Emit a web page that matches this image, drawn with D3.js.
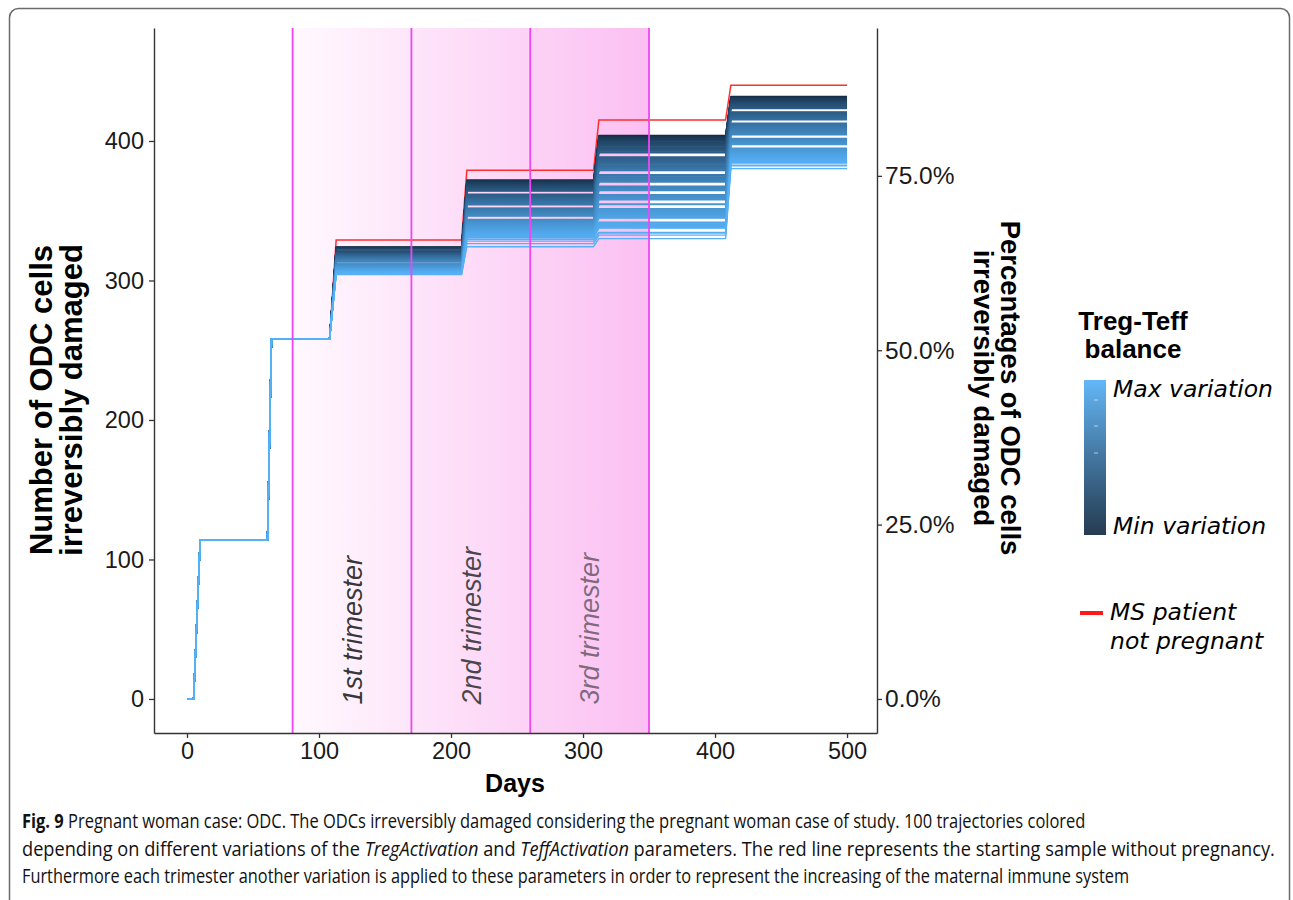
<!DOCTYPE html>
<html>
<head>
<meta charset="utf-8">
<script src="https://cdn.jsdelivr.net/npm/d3@7/dist/d3.min.js"></script>
<style>
  body { margin: 0; background: #fff; }
</style>
</head>
<body>
<script>
// ---- data ----
var xTicks = [0, 100, 200, 300, 400, 500];
var yTicks = [0, 100, 200, 300, 400];
var pctTicks = [0, 25, 50, 75];
var totalCells = 500;              // 100% on the right axis
var trimesterBounds = [80, 170, 260, 350];
var trimesterNames = ["1st trimester", "2nd trimester", "3rd trimester"];
var trimesterMid = [125, 215, 305];

// damage events: day the rise starts and day it ends
var riseStart = [5, 61, 108, 208, 308, 408];
var riseEnd = [10, 64, 113, 212, 312, 412];
var lastDay = 500;

// plateaus common to every trajectory
var commonLevels = [0, 114, 258];
// red line: MS patient not pregnant
var redLevels = [0, 114, 258, 329, 379, 415, 440];

// plateau after each later event, one value per trajectory, min variation first
var step3 = [
  324.0, 323.8, 323.7, 323.5, 323.4, 323.2, 323.0, 322.9, 322.7, 322.6,
  321.2, 321.0, 320.9, 320.7, 320.5, 320.4, 320.2, 320.1, 319.9, 319.7,
  319.6, 319.4, 319.3, 319.1, 318.9, 318.8, 318.6, 318.5, 318.3, 318.1,
  318.0, 317.8, 317.7, 317.5, 317.3, 317.2, 317.0, 316.9, 316.7, 316.5,
  316.4, 316.2, 316.1, 315.9, 315.7, 315.6, 315.4, 315.3, 315.1, 314.9,
  314.8, 314.6, 314.5, 314.3, 314.1, 314.0, 313.8, 313.7, 313.5, 313.3,
  311.9, 311.7, 311.6, 311.4, 311.2, 311.1, 310.9, 310.7, 310.6, 310.4,
  310.2, 310.1, 309.9, 309.7, 309.6, 309.4, 309.2, 309.0, 308.9, 308.7,
  308.5, 308.3, 308.2, 308.0, 307.8, 307.6, 307.4, 307.3, 307.1, 306.9,
  306.7, 306.5, 306.3, 306.1, 305.9, 305.7, 305.4, 305.1, 304.7, 304.2];
var step4 = [
  372.0, 371.6, 371.3, 371.0, 370.6, 370.2, 369.9, 369.5, 369.2, 368.8,
  368.4, 368.1, 367.7, 367.4, 367.0, 366.6, 366.3, 365.9, 365.6, 365.2,
  364.8, 364.5, 364.1, 361.9, 361.5, 361.2, 360.8, 360.5, 360.1, 359.7,
  359.4, 359.0, 358.7, 358.3, 357.9, 357.6, 357.2, 356.9, 356.5, 356.1,
  355.8, 355.4, 355.1, 354.7, 354.3, 351.9, 351.6, 351.2, 350.8, 350.5,
  350.1, 349.8, 349.4, 349.0, 348.7, 348.3, 348.0, 347.6, 347.2, 346.9,
  346.5, 346.2, 343.8, 343.5, 343.1, 342.7, 342.4, 342.0, 341.7, 341.3,
  340.9, 340.6, 340.2, 339.9, 339.5, 339.1, 338.8, 338.4, 338.1, 337.7,
  337.3, 337.0, 336.6, 336.3, 335.9, 335.5, 335.2, 334.8, 334.5, 334.1,
  333.7, 333.3, 332.8, 332.2, 331.5, 330.6, 329.6, 328.2, 326.4, 324.2];
var step5 = [
  404.0, 403.5, 403.0, 402.5, 402.0, 401.4, 400.9, 400.4, 399.9, 399.4,
  398.9, 398.3, 397.8, 397.3, 396.8, 396.3, 395.8, 395.2, 394.7, 394.2,
  393.7, 393.2, 392.7, 392.1, 391.6, 388.6, 388.1, 387.6, 387.1, 386.6,
  386.0, 385.5, 385.0, 384.5, 384.0, 383.5, 382.9, 382.4, 381.9, 381.4,
  380.9, 380.4, 379.8, 379.3, 378.8, 375.8, 375.3, 374.8, 374.2, 373.7,
  373.2, 372.7, 372.2, 371.7, 371.1, 370.6, 367.6, 367.1, 366.6, 366.0,
  365.5, 365.0, 364.5, 361.5, 361.0, 360.5, 360.0, 359.4, 358.9, 358.4,
  357.9, 354.9, 354.4, 351.4, 350.9, 350.4, 349.8, 349.3, 348.8, 348.3,
  347.8, 347.3, 346.7, 346.2, 345.7, 345.2, 344.7, 341.7, 341.1, 340.6,
  340.1, 339.6, 339.1, 338.6, 338.0, 337.5, 334.5, 334.0, 332.5, 330.0];
var step6 = [
  432.0, 431.6, 431.2, 430.8, 430.4, 430.0, 429.6, 429.2, 428.8, 428.4,
  428.0, 427.6, 427.2, 426.8, 426.4, 426.0, 425.6, 425.2, 424.8, 424.4,
  424.0, 423.6, 423.2, 420.8, 420.4, 420.0, 419.6, 419.2, 418.8, 418.4,
  418.0, 417.6, 417.2, 416.8, 416.4, 416.0, 415.6, 415.2, 412.8, 412.4,
  412.0, 411.6, 411.2, 410.8, 410.4, 410.0, 409.6, 409.2, 408.8, 408.4,
  408.0, 407.6, 407.2, 406.8, 406.4, 406.0, 405.6, 405.2, 404.8, 404.4,
  401.8, 401.4, 401.0, 400.6, 400.2, 399.8, 399.4, 399.0, 398.6, 398.2,
  397.8, 397.4, 394.8, 394.4, 394.0, 393.6, 393.2, 392.8, 392.4, 392.0,
  391.6, 391.2, 390.8, 390.4, 390.0, 389.6, 389.2, 388.8, 388.4, 388.0,
  387.6, 387.2, 386.8, 386.4, 386.0, 385.4, 384.6, 383.6, 382.2, 380.2];

var lowColor = "#132B43", highColor = "#56B1F7";

// ---- page ----
var W = 1293, H = 900;
var svg = d3.select("body").append("svg")
    .attr("width", W)
    .attr("height", H)
    .style("font-family", "'Liberation Sans', Arial, sans-serif");

var defs = svg.append("defs");

// figure frame
svg.append("rect")
    .attr("x", 9.5).attr("y", 8.5)
    .attr("width", 1280).attr("height", 940)
    .attr("rx", 9)
    .attr("fill", "none")
    .attr("stroke", "#6b6b6b")
    .attr("stroke-width", 1.5);

var x = d3.scaleLinear().domain([-25, 522.7]).range([154, 877]);
var y = d3.scaleLinear().domain([-24.4, 481]).range([733, 28]);

// trimester shading
var shade = defs.append("linearGradient")
    .attr("id", "shade")
    .attr("gradientUnits", "userSpaceOnUse")
    .attr("x1", x(trimesterBounds[0])).attr("x2", x(trimesterBounds[3]))
    .attr("y1", 0).attr("y2", 0);
shade.append("stop").attr("offset", 0).attr("stop-color", "#fff9fe");
shade.append("stop").attr("offset", 1).attr("stop-color", "#fbbff2");

svg.append("rect")
    .attr("x", x(trimesterBounds[0]))
    .attr("y", y.range()[1])
    .attr("width", x(trimesterBounds[3]) - x(trimesterBounds[0]))
    .attr("height", y.range()[0] - y.range()[1])
    .attr("fill", "url(#shade)");

// trajectories
function buildPath(levels) {
  var pts = [[0, levels[0]]];
  for (var k = 0; k < riseStart.length; k++) {
    pts.push([riseStart[k], levels[k]]);
    pts.push([riseEnd[k], levels[k + 1]]);
  }
  pts.push([lastDay, levels[levels.length - 1]]);
  return pts;
}

var line = d3.line()
    .x(function(d) { return x(d[0]); })
    .y(function(d) { return y(d[1]); });

var n = step3.length;
var color = d3.scalePow().exponent(0.65).domain([0, n - 1])
    .range([lowColor, highColor])
    .interpolate(d3.interpolateLab);

var trajectories = d3.range(n).map(function(i) {
  return buildPath(commonLevels.concat([step3[i], step4[i], step5[i], step6[i]]));
});

var plot = svg.append("g");

plot.append("path")
    .attr("d", line(buildPath(redLevels)))
    .attr("fill", "none")
    .attr("stroke", "#ff2e2e")
    .attr("stroke-width", 1.5);

plot.selectAll("path.traj")
    .data(trajectories)
  .enter().append("path")
    .attr("class", "traj")
    .attr("d", line)
    .attr("fill", "none")
    .attr("stroke", function(d, i) { return color(i); })
    .attr("stroke-width", 1.4)
    .attr("stroke-linejoin", "round");

// trimester boundaries
svg.selectAll("line.vline")
    .data(trimesterBounds)
  .enter().append("line")
    .attr("x1", function(d) { return x(d); })
    .attr("x2", function(d) { return x(d); })
    .attr("y1", y.range()[1])
    .attr("y2", y.range()[0])
    .attr("stroke", "#f046f2")
    .attr("stroke-width", 1.8);

// trimester labels
var labelOpacity = [0.95, 0.85, 0.6];
svg.selectAll("text.trim")
    .data(trimesterNames)
  .enter().append("text")
    .attr("transform", function(d, i) {
      return "translate(" + x(trimesterMid[i]) + "," + y(-4) + ") rotate(-90)";
    })
    .attr("dy", "0.36em")
    .attr("font-size", 27)
    .attr("font-style", "italic")
    .attr("fill", "#2b2b2b")
    .attr("fill-opacity", function(d, i) { return labelOpacity[i]; })
    .text(function(d) { return d; });

// axes
function styleAxis(size) {
  return function(g) {
    g.select(".domain").attr("stroke", "#333").attr("stroke-width", 1.4);
    g.selectAll(".tick line").attr("stroke", "#333").attr("stroke-width", 1.3);
    g.selectAll(".tick text").attr("fill", "#1a1a1a").attr("font-size", size)
        .attr("font-family", "'Liberation Sans', Arial, sans-serif");
  };
}

svg.append("g")
    .attr("transform", "translate(0," + y.range()[0] + ")")
    .call(d3.axisBottom(x).tickValues(xTicks).tickSize(5).tickPadding(4).tickSizeOuter(0))
    .call(styleAxis(23.5));

svg.append("g")
    .attr("transform", "translate(" + x.range()[0] + ",0)")
    .call(d3.axisLeft(y).tickValues(yTicks).tickSize(5).tickPadding(5).tickSizeOuter(0))
    .call(styleAxis(23.5));

svg.append("g")
    .attr("transform", "translate(" + x.range()[1] + ",0)")
    .call(d3.axisRight(y)
        .tickValues(pctTicks.map(function(p) { return p / 100 * totalCells; }))
        .tickFormat(function(v) { return d3.format(".1f")(v / totalCells * 100) + "%"; })
        .tickSize(5).tickPadding(3).tickSizeOuter(0))
    .call(styleAxis(24.5));

// axis titles
svg.append("text")
    .attr("x", 515).attr("y", 792)
    .attr("text-anchor", "middle")
    .attr("font-size", 25).attr("font-weight", "bold")
    .text("Days");

var leftTitle = svg.append("text")
    .attr("transform", "translate(56,400) rotate(-90)")
    .attr("text-anchor", "middle")
    .attr("font-size", 31).attr("font-weight", "bold");
leftTitle.append("tspan").attr("x", 0).attr("y", -4).text("Number of ODC cells");
leftTitle.append("tspan").attr("x", 0).attr("y", 26).text("irreversibly damaged");

var rightTitle = svg.append("text")
    .attr("transform", "translate(997,388) rotate(90)")
    .attr("text-anchor", "middle")
    .attr("font-size", 27.5).attr("font-weight", "bold");
rightTitle.append("tspan").attr("x", 0).attr("y", -4).text("Percentages of ODC cells");
rightTitle.append("tspan").attr("x", 0).attr("y", 23).text("irreversibly damaged");

// legend: colour bar
var legTitle = svg.append("text")
    .attr("text-anchor", "middle")
    .attr("font-size", 26).attr("font-weight", "bold");
legTitle.append("tspan").attr("x", 1133).attr("y", 330).text("Treg-Teff");
legTitle.append("tspan").attr("x", 1133).attr("y", 358).text("balance");

var bar = defs.append("linearGradient")
    .attr("id", "bar")
    .attr("x1", 0).attr("x2", 0).attr("y1", 0).attr("y2", 1);
d3.range(0, 1.0001, 0.1).forEach(function(t) {
  bar.append("stop").attr("offset", t)
      .attr("stop-color", d3.interpolateLab(highColor, lowColor)(t));
});
svg.append("rect")
    .attr("x", 1084).attr("y", 380)
    .attr("width", 22).attr("height", 155)
    .attr("fill", "url(#bar)")
    .attr("opacity", 0.92);
[400, 426, 453].forEach(function(ty) {
  svg.append("line")
      .attr("x1", 1094).attr("x2", 1098)
      .attr("y1", ty).attr("y2", ty)
      .attr("stroke", "#fff").attr("stroke-opacity", 0.6);
});

svg.append("text")
    .attr("x", 1113).attr("y", 397)
    .attr("font-family", "'DejaVu Sans', sans-serif")
    .attr("font-style", "italic").attr("font-size", 23.5)
    .text("Max variation");
svg.append("text")
    .attr("x", 1113).attr("y", 534)
    .attr("font-family", "'DejaVu Sans', sans-serif")
    .attr("font-style", "italic").attr("font-size", 23.5)
    .text("Min variation");

// legend: red line
svg.append("line")
    .attr("x1", 1080).attr("x2", 1103)
    .attr("y1", 613).attr("y2", 613)
    .attr("stroke", "#ff1a1a").attr("stroke-width", 4);
var redText = svg.append("text")
    .attr("font-family", "'DejaVu Sans', sans-serif")
    .attr("font-style", "italic").attr("font-size", 23.5);
redText.append("tspan").attr("x", 1110).attr("y", 620).text("MS patient");
redText.append("tspan").attr("x", 1110).attr("y", 649).text("not pregnant");

// caption: each line squeezed horizontally to the width it has in the figure
var caption = svg.append("g")
    .attr("font-family", "'Open Sans', Lato, sans-serif")
    .attr("font-size", 20)
    .attr("fill", "#111");

function captionLine(yPos, width) {
  return caption.append("text").attr("data-y", yPos).attr("data-w", width);
}

var cap1 = captionLine(828, 1064);
cap1.append("tspan").attr("font-weight", "bold").text("Fig. 9");
cap1.append("tspan").text(" Pregnant woman case: ODC. The ODCs irreversibly damaged considering the pregnant woman case of study. 100 trajectories colored");

var cap2 = captionLine(856, 1254);
cap2.append("tspan").text("depending on different variations of the ");
cap2.append("tspan").attr("font-style", "italic").text("TregActivation");
cap2.append("tspan").text(" and ");
cap2.append("tspan").attr("font-style", "italic").text("TeffActivation");
cap2.append("tspan").text(" parameters. The red line represents the starting sample without pregnancy.");

var cap3 = captionLine(883, 1108);
cap3.text("Furthermore each trimester another variation is applied to these parameters in order to represent the increasing of the maternal immune system");

caption.selectAll("text").each(function() {
  var t = d3.select(this);
  var natural = this.getComputedTextLength();
  var sx = +t.attr("data-w") / natural;
  t.attr("transform", "translate(22," + t.attr("data-y") + ") scale(" + sx + ",1)");
});
</script>
</body>
</html>
